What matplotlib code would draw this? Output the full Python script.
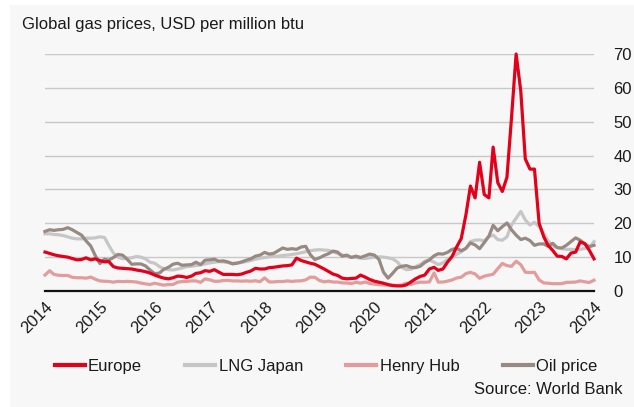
import matplotlib
matplotlib.use("Agg")
import matplotlib.pyplot as plt
import matplotlib.dates as mdates
from matplotlib.patches import Rectangle
import pandas as pd

# ---------------- data (USD per million btu, monthly Jan 2014 - Jan 2024) ----------------
europe = [
    11.5, 11.1, 10.7, 10.4, 10.2, 10.0, 9.6, 9.2, 9.3, 9.8, 9.2, 9.5,      # 2014
    9.0, 8.6, 8.7, 7.2, 6.8, 6.7, 6.6, 6.5, 6.2, 6.0, 5.7, 5.3,           # 2015
    4.7, 4.2, 3.8, 3.6, 3.9, 4.4, 4.3, 4.0, 4.4, 5.2, 5.4, 6.0,           # 2016
    5.8, 6.3, 5.6, 4.9, 4.9, 4.9, 4.8, 5.0, 5.5, 5.9, 6.7, 6.5,           # 2017
    6.5, 6.9, 7.0, 7.2, 7.4, 7.5, 7.7, 9.7, 9.0, 8.6, 8.2, 7.9,           # 2018
    7.2, 6.5, 5.8, 5.0, 4.6, 3.8, 3.6, 3.7, 3.8, 4.7, 4.1, 3.4,           # 2019
    2.9, 2.6, 2.3, 1.9, 1.6, 1.5, 1.5, 1.8, 2.7, 3.6, 4.3, 4.7,           # 2020
    6.5, 7.0, 6.1, 6.5, 8.5, 10.2, 13.0, 15.5, 22.5, 31.0, 27.5, 38.0,    # 2021
    28.5, 27.5, 42.5, 32.0, 29.4, 33.6, 51.0, 70.0, 59.0, 39.0, 36.0, 36.0,  # 2022
    20.0, 16.0, 13.5, 12.0, 10.3, 10.2, 9.5, 11.2, 11.5, 14.5, 14.0, 12.0,   # 2023
    9.5,                                                                     # 2024
]
lng_japan = [
    16.9, 16.9, 16.7, 16.6, 16.4, 16.0, 15.6, 15.4, 15.4, 15.6, 15.6, 15.7,
    16.0, 15.8, 13.5, 11.2, 10.0, 9.5, 9.7, 9.8, 10.2, 10.0, 9.5, 8.5,
    8.2, 7.2, 6.6, 6.3, 6.2, 6.5, 6.8, 7.2, 7.3, 7.5, 7.7, 8.0,
    8.3, 8.5, 8.7, 8.6, 8.4, 8.2, 8.3, 8.4, 8.7, 9.0, 9.4, 9.7,
    9.9, 10.1, 10.2, 10.3, 10.5, 10.6, 10.8, 11.0, 11.3, 11.6, 11.9, 12.1,
    12.2, 12.1, 12.0, 11.6, 11.1, 10.6, 10.2, 10.0, 9.9, 9.7, 9.6, 9.8,
    10.0, 10.1, 10.0, 9.8, 9.5, 8.6, 7.0, 6.3, 6.4, 7.2, 7.8, 8.8,
    9.2, 8.5, 7.8, 8.3, 9.3, 10.1, 10.8, 11.6, 12.6, 14.6, 15.0, 15.1,
    14.8, 16.1, 16.5, 15.2, 15.0, 16.0, 19.5, 21.5, 23.5, 21.0, 19.5, 20.3,
    19.0, 17.0, 14.8, 13.4, 12.9, 12.5, 12.3, 12.3, 12.2, 12.3, 12.6, 12.8,
    14.6,
]
henry_hub = [
    4.71, 6.00, 4.90, 4.66, 4.58, 4.59, 4.05, 3.91, 3.92, 3.78, 4.12, 3.48,
    2.99, 2.87, 2.83, 2.61, 2.85, 2.78, 2.84, 2.77, 2.66, 2.34, 2.09, 1.93,
    2.28, 1.99, 1.73, 1.92, 1.92, 2.59, 2.82, 2.82, 2.99, 2.98, 2.55, 3.59,
    3.30, 2.85, 2.88, 3.10, 3.15, 2.98, 2.98, 2.90, 2.98, 2.88, 3.01, 2.75,
    3.87, 2.67, 2.69, 2.80, 2.80, 2.97, 2.83, 2.96, 3.00, 3.28, 4.09, 4.04,
    3.11, 2.69, 2.92, 2.65, 2.64, 2.40, 2.37, 2.22, 2.56, 2.33, 2.65, 2.22,
    2.02, 1.91, 1.79, 1.74, 1.75, 1.63, 1.77, 2.30, 1.92, 2.39, 2.61, 2.59,
    2.67, 5.35, 2.62, 2.66, 2.91, 3.26, 3.84, 4.07, 5.16, 5.51, 5.05, 3.76,
    4.38, 4.69, 4.96, 6.60, 8.14, 7.50, 7.28, 8.80, 7.76, 5.54, 5.45, 5.53,
    3.27, 2.38, 2.31, 2.16, 2.15, 2.18, 2.55, 2.58, 2.64, 2.98, 2.71, 2.52,
    3.18,
]
oil_price = [
    17.6, 18.1, 17.9, 18.1, 18.2, 18.7, 18.1, 17.3, 16.5, 14.8, 13.3, 10.5,
    8.1, 9.4, 9.1, 9.9, 10.8, 10.6, 9.4, 7.9, 8.0, 8.0, 7.4, 6.2,
    5.1, 5.3, 6.4, 7.0, 7.9, 8.2, 7.6, 7.7, 7.8, 8.5, 7.8, 9.1,
    9.2, 9.4, 8.8, 8.9, 8.6, 8.0, 8.2, 8.6, 9.1, 9.5, 10.3, 10.6,
    11.4, 10.9, 11.1, 11.9, 12.7, 12.3, 12.5, 12.3, 13.0, 13.2, 10.7, 9.3,
    9.8, 10.5, 11.0, 11.8, 11.5, 10.3, 10.6, 9.9, 10.3, 9.9, 10.4, 10.9,
    10.6, 9.3, 5.6, 3.8, 5.2, 6.8, 7.3, 7.5, 7.0, 6.9, 7.3, 8.4,
    9.2, 10.4, 11.0, 10.9, 11.4, 12.3, 12.6, 11.9, 12.6, 14.2, 13.6, 12.5,
    14.3, 16.2, 19.4, 17.8, 19.0, 20.1, 18.1, 16.5, 15.2, 15.6, 14.9, 13.5,
    13.9, 13.9, 13.2, 14.1, 12.8, 12.7, 13.5, 14.6, 15.7, 15.0, 13.9, 13.1,
    13.5,
]
series_names = ["Europe", "LNG Japan", "Henry Hub", "Oil price"]
year_ticks = list(range(2014, 2025))
y_ticks = [0, 10, 20, 30, 40, 50, 60, 70]

dates = pd.date_range("2014-01-01", periods=len(europe), freq="MS")
df = pd.DataFrame({"Europe": europe, "LNG Japan": lng_japan,
                   "Henry Hub": henry_hub, "Oil price": oil_price}, index=dates)

# ---------------- styling ----------------
FONT = ["Liberation Sans", "DejaVu Sans"]
plt.rcParams["font.family"] = FONT
colors = {"Europe": "#e2001a", "LNG Japan": "#c6c6c6",
          "Henry Hub": "#e39c9c", "Oil price": "#988983"}
zorders = {"Europe": 6, "LNG Japan": 3, "Henry Hub": 4, "Oil price": 5}

W, H = 634, 407
fig = plt.figure(figsize=(W / 100, H / 100), dpi=100)
fig.patch.set_facecolor("white")
fig.patches.append(Rectangle((10 / W, 0), 1, 1 - 5 / H, transform=fig.transFigure,
                             facecolor="#f7f7f7", edgecolor="none", zorder=-10))

ax = fig.add_axes([45 / W, (H - 291) / H, (594 - 45) / W, (291 - 54) / H])
ax.set_facecolor("none")
ax.set_zorder(2)

handles = {}
for name in series_names:
    ln, = ax.plot(df.index, df[name], color=colors[name], lw=2.3,
                  solid_joinstyle="round", zorder=zorders[name], clip_on=False,
                  label=name)
    handles[name] = ln

ax.set_ylim(0, 70)
ax.set_xlim(pd.Timestamp("2014-01-01"), pd.Timestamp("2024-01-01"))
ax.set_yticks(y_ticks)
ax.yaxis.tick_right()
ax.tick_params(axis="y", length=0, pad=14, labelsize=12, colors="#1a1a1a")
ax.set_xticks([pd.Timestamp(f"{y}-01-01") for y in year_ticks])
ax.xaxis.set_major_formatter(mdates.DateFormatter("%Y"))
ax.tick_params(axis="x", length=0, pad=6, labelsize=12, colors="#1a1a1a")
for lab in ax.get_xticklabels():
    lab.set_rotation(45)
    lab.set_ha("right")
    lab.set_va("top")
    lab.set_rotation_mode("anchor")

for y in y_ticks[1:]:
    ax.axhline(y, color="#c8c8c8", lw=1.0, zorder=1)
ax.axhline(0, color="#111111", lw=1.6, zorder=7, clip_on=False)
for s in ax.spines.values():
    s.set_visible(False)

fig.text(22 / W, 1 - 25 / H, "Global gas prices, USD per million btu",
         fontsize=12, ha="left", va="center", color="#1a1a1a")
fig.text(623 / W, 1 - 390 / H, "Source: World Bank", fontsize=12,
         ha="right", va="center", color="#1a1a1a")

leg = fig.legend([handles[n] for n in series_names], series_names, ncol=4,
                 loc="center", bbox_to_anchor=(326 / W, 1 - 366 / H),
                 frameon=False, fontsize=12, handlelength=1.8,
                 handletextpad=0.2, columnspacing=2.6, labelcolor="#1a1a1a")
for lh in leg.get_lines():
    lh.set_linewidth(3)

fig.savefig("out.png", dpi=100, facecolor=fig.get_facecolor())
